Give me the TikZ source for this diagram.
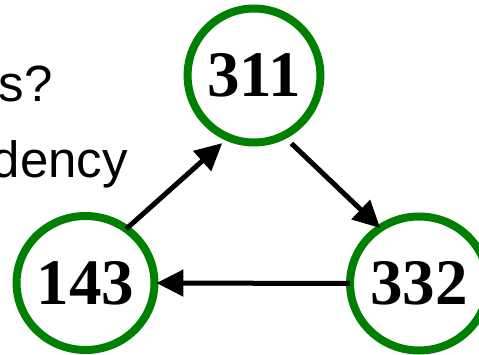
\documentclass[tikz,border=0pt]{standalone}
\usepackage{fontspec}
\setmainfont{Liberation Serif}
\newfontfamily\textosans{Liberation Sans}
\usetikzlibrary{arrows.meta,shapes.geometric}
\definecolor{verde}{RGB}{0,128,0}

\begin{document}
\begin{tikzpicture}[
  x=1pt, y=1pt,
  vertice/.style={draw=verde, line width=8pt, ellipse, outer sep=0pt, inner sep=0pt,
                  minimum width=128pt, minimum height=134pt,
                  font=\fontsize{65}{70}\selectfont\bfseries},
  texto/.style={anchor=base east, inner sep=0pt,
                font=\textosans\fontsize{51}{60}\selectfont},
  seta/.style={line width=5pt, -{Triangle[length=27pt, width=26pt]}},
]
\clip (0,0) rectangle (479,-355);

% ---- Texto do slide (cortado) ----------------------------------------------
\node[texto] (perg) at (53,-102) {s?};
\node[texto] (dep)  at (128,-178) {dency};

% ---- Vertices ---------------------------------------------------------------
\node[vertice] (v311) at (254,-75.5) {311};
\node[vertice] (v143) at (85.5,-283) {143};
\node[vertice] (v332) at (419,-283.5) {332};

% ---- Arestas (ciclo) --------------------------------------------------------
\draw[seta] (v143.53) -- ([shift={(-3.5pt,-7pt)}]v311.245);
\draw[seta] ([shift={(5pt,-9.5pt)}]v311.-61) -- (v332.125);
\draw[seta] (v332.west) -- ([xshift=2pt]v143.east);

\end{tikzpicture}
\end{document}
